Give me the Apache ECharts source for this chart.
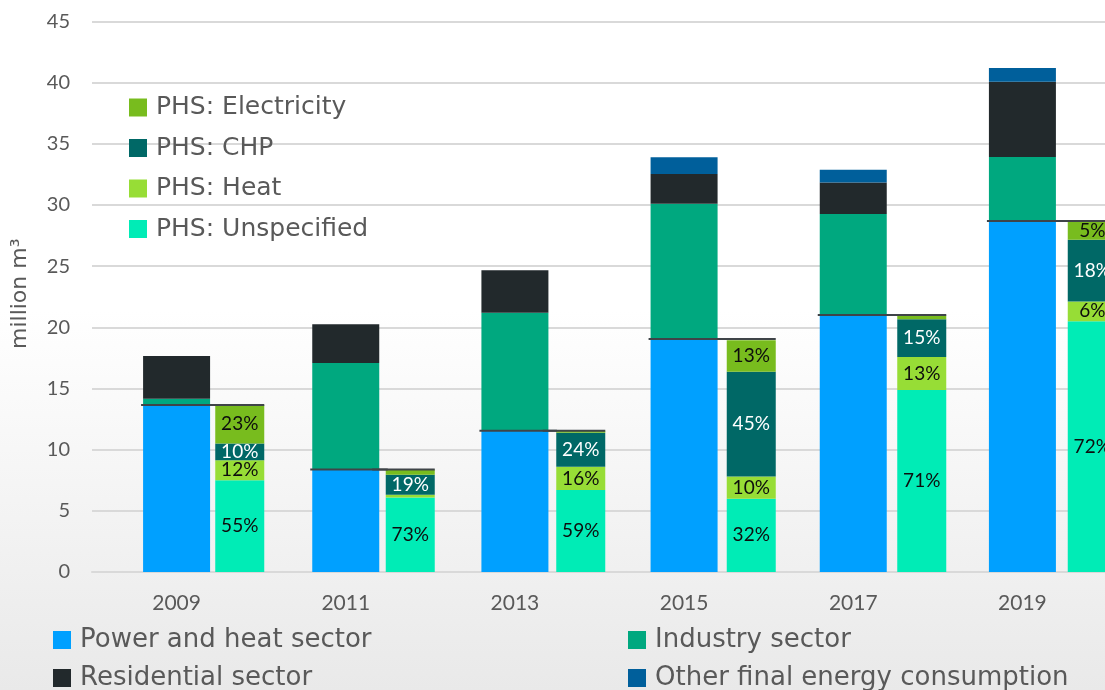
<!DOCTYPE html>
<html>
<head>
<meta charset="utf-8">
<script src="https://cdn.jsdelivr.net/npm/echarts@6/dist/echarts.min.js"></script>
<style>
    html, body { margin: 0; padding: 0; }
    #main { width: 1105px; height: 690px; }
</style>
</head>
<body>
<div id="main"></div>
<script>
    // 数据
    let years = ['2009', '2011', '2013', '2015', '2017', '2019'];
    let yTicks = [0, 5, 10, 15, 20, 25, 30, 35, 40, 45];

    let power = [13.65, 8.37, 11.55, 19.05, 21.0, 28.7];
    let industry = [0.52, 8.72, 9.65, 11.05, 8.26, 5.22];
    let residential = [3.49, 3.16, 3.46, 2.43, 2.58, 6.16];
    let otherFinal = [0, 0, 0, 1.38, 1.04, 1.12];

    let phsUnspecified = [7.5, 6.1, 6.7, 5.99, 14.87, 20.49];
    let phsHeat = [1.64, 0.22, 1.9, 1.82, 2.7, 1.63];
    let phsChp = [1.37, 1.62, 2.78, 8.55, 3.09, 5.03];
    let phsElectricity = [3.14, 0.43, 0.17, 2.58, 0.3, 1.5];

    let unspecifiedLabels = ['55%', '73%', '59%', '32%', '71%', '72%'];
    let heatLabels = ['12%', null, '16%', '10%', '13%', '6%'];
    let chpLabels = ['10%', '19%', '24%', '45%', '15%', '18%'];
    let electricityLabels = ['23%', null, null, '13%', null, '5%'];

    let font = 'Lato';
    let wideFont = 'DejaVu Sans';
    let grey = '#595959';

    let myChart = echarts.init(document.getElementById('main'));

    function leftBar(name, data, color) {
        return {
            name: name, type: 'bar', stack: 'sector', data: data,
            xAxisIndex: 0, yAxisIndex: 0, barWidth: 67,
            itemStyle: {color: color}
        };
    }

    function rightBar(name, data, color, labels, labelColor) {
        return {
            name: name, type: 'bar', stack: 'phs', data: data,
            xAxisIndex: 1, yAxisIndex: 1, barWidth: 49,
            itemStyle: {color: color},
            label: {
                show: true, position: 'inside',
                fontFamily: font, fontSize: 19, color: labelColor,
                formatter: function (p) { return labels[p.dataIndex] || ''; }
            }
        };
    }

    // 横线: 电力部门总量
    function powerLine(axis, fromX, toX) {
        return {
            type: 'custom', xAxisIndex: axis, yAxisIndex: axis, z: 5,
            data: power.map(function (v, i) { return [i, v]; }),
            renderItem: function (params, api) {
                let pt = api.coord([api.value(0), api.value(1)]);
                return {
                    type: 'line',
                    shape: {x1: pt[0] + fromX, y1: pt[1], x2: pt[0] + toX, y2: pt[1]},
                    style: {stroke: '#3f4448', lineWidth: 2}
                };
            }
        };
    }

    function legendBox(left, top, gap, size, names) {
        return {
            orient: 'vertical', left: left, top: top, height: 200, padding: 0,
            itemGap: gap, itemWidth: 18, itemHeight: 18, icon: 'rect',
            textStyle: {fontFamily: wideFont, fontSize: size, color: grey, padding: [0, 0, 0, 4]},
            data: names
        };
    }

    myChart.setOption({
        backgroundColor: new echarts.graphic.LinearGradient(0, 0, 0, 1, [
            {offset: 0, color: '#ffffff'},
            {offset: 0.45, color: '#ffffff'},
            {offset: 1, color: '#e9e9e9'}
        ]),
        animation: false,
        legend: [
            legendBox(129, 95, 15.5, 25, ['PHS: Electricity', 'PHS: CHP', 'PHS: Heat', 'PHS: Unspecified']),
            legendBox(53, 627, 12, 26, ['Power and heat sector', 'Residential sector']),
            legendBox(628, 627, 12, 26, ['Industry sector', 'Other final energy consumption'])
        ],
        grid: [
            {left: 92, width: 1015, top: 21.5, height: 550.5, outerBoundsMode: 'none'},
            {left: 154.5, width: 1023, top: 21.5, height: 550.5, outerBoundsMode: 'none'}
        ],
        xAxis: [
            {
                type: 'category', gridIndex: 0, data: years,
                axisTick: {show: false},
                axisLine: {lineStyle: {color: '#d9d9d9', width: 2}},
                axisLabel: {fontFamily: font, fontSize: 21, color: grey, margin: 21}
            },
            {type: 'category', gridIndex: 1, data: years, show: false}
        ],
        yAxis: [
            {
                type: 'value', gridIndex: 0, min: yTicks[0], max: yTicks[yTicks.length - 1], interval: 5,
                name: 'million m³', nameLocation: 'middle', nameGap: 61,
                nameTextStyle: {fontFamily: wideFont, fontSize: 22, color: grey, padding: [0, 0, 0, 6]},
                axisLine: {show: false}, axisTick: {show: false},
                axisLabel: {fontFamily: font, fontSize: 20, color: grey, margin: 22},
                splitLine: {lineStyle: {color: '#d9d9d9', width: 2}}
            },
            {type: 'value', gridIndex: 1, min: yTicks[0], max: yTicks[yTicks.length - 1], show: false}
        ],
        series: [
            leftBar('Power and heat sector', power, '#00a0ff'),
            leftBar('Industry sector', industry, '#00a87f'),
            leftBar('Residential sector', residential, '#22292c'),
            leftBar('Other final energy consumption', otherFinal, '#005f9b'),
            rightBar('PHS: Unspecified', phsUnspecified, '#00ecb6', unspecifiedLabels, '#0d0d0d'),
            rightBar('PHS: Heat', phsHeat, '#97dd36', heatLabels, '#0d0d0d'),
            rightBar('PHS: CHP', phsChp, '#006866', chpLabels, '#ffffff'),
            rightBar('PHS: Electricity', phsElectricity, '#78bc1e', electricityLabels, '#0d0d0d'),
            powerLine(0, -35.5, 42),
            powerLine(1, -38, 24.5)
        ]
    });
</script>
</body>
</html>
